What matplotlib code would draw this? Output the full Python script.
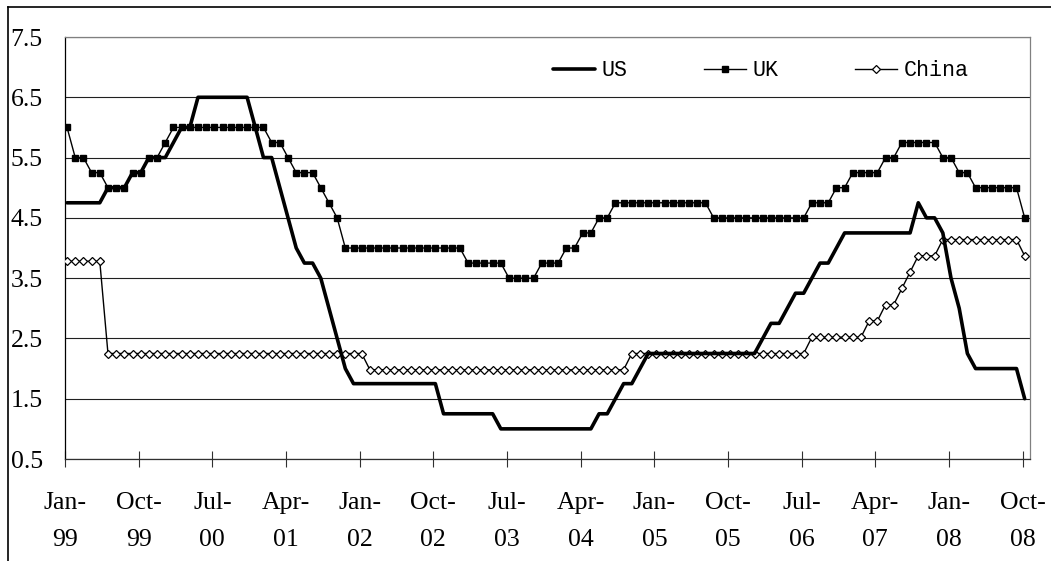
import matplotlib
matplotlib.use("Agg")
import matplotlib.pyplot as plt
from matplotlib.lines import Line2D
import numpy as np

# ---------------- data (monthly, Jan-1999 .. Oct-2008) ----------------
us = [
    4.75, 4.75, 4.75, 4.75, 4.75, 5.0, 5.0, 5.0, 5.25, 5.25, 5.5, 5.5,      # 1999
    5.5, 5.75, 6.0, 6.0, 6.5, 6.5, 6.5, 6.5, 6.5, 6.5, 6.5, 6.0,            # 2000
    5.5, 5.5, 5.0, 4.5, 4.0, 3.75, 3.75, 3.5, 3.0, 2.5, 2.0, 1.75,          # 2001
    1.75, 1.75, 1.75, 1.75, 1.75, 1.75, 1.75, 1.75, 1.75, 1.75, 1.25, 1.25, # 2002
    1.25, 1.25, 1.25, 1.25, 1.25, 1.0, 1.0, 1.0, 1.0, 1.0, 1.0, 1.0,        # 2003
    1.0, 1.0, 1.0, 1.0, 1.0, 1.25, 1.25, 1.5, 1.75, 1.75, 2.0, 2.25,        # 2004
    2.25, 2.25, 2.25, 2.25, 2.25, 2.25, 2.25, 2.25, 2.25, 2.25, 2.25, 2.25, # 2005
    2.25, 2.5, 2.75, 2.75, 3.0, 3.25, 3.25, 3.5, 3.75, 3.75, 4.0, 4.25,     # 2006
    4.25, 4.25, 4.25, 4.25, 4.25, 4.25, 4.25, 4.25, 4.75, 4.5, 4.5, 4.25,   # 2007
    3.5, 3.0, 2.25, 2.0, 2.0, 2.0, 2.0, 2.0, 2.0, 1.5,                      # 2008
]
uk = [
    6.0, 5.5, 5.5, 5.25, 5.25, 5.0, 5.0, 5.0, 5.25, 5.25, 5.5, 5.5,         # 1999
    5.75, 6.0, 6.0, 6.0, 6.0, 6.0, 6.0, 6.0, 6.0, 6.0, 6.0, 6.0,            # 2000
    6.0, 5.75, 5.75, 5.5, 5.25, 5.25, 5.25, 5.0, 4.75, 4.5, 4.0, 4.0,       # 2001
    4.0, 4.0, 4.0, 4.0, 4.0, 4.0, 4.0, 4.0, 4.0, 4.0, 4.0, 4.0,             # 2002
    4.0, 3.75, 3.75, 3.75, 3.75, 3.75, 3.5, 3.5, 3.5, 3.5, 3.75, 3.75,      # 2003
    3.75, 4.0, 4.0, 4.25, 4.25, 4.5, 4.5, 4.75, 4.75, 4.75, 4.75, 4.75,     # 2004
    4.75, 4.75, 4.75, 4.75, 4.75, 4.75, 4.75, 4.5, 4.5, 4.5, 4.5, 4.5,      # 2005
    4.5, 4.5, 4.5, 4.5, 4.5, 4.5, 4.5, 4.75, 4.75, 4.75, 5.0, 5.0,          # 2006
    5.25, 5.25, 5.25, 5.25, 5.5, 5.5, 5.75, 5.75, 5.75, 5.75, 5.75, 5.5,    # 2007
    5.5, 5.25, 5.25, 5.0, 5.0, 5.0, 5.0, 5.0, 5.0, 4.5,                     # 2008
]
china = [
    3.78, 3.78, 3.78, 3.78, 3.78, 2.25, 2.25, 2.25, 2.25, 2.25, 2.25, 2.25, # 1999
    2.25, 2.25, 2.25, 2.25, 2.25, 2.25, 2.25, 2.25, 2.25, 2.25, 2.25, 2.25, # 2000
    2.25, 2.25, 2.25, 2.25, 2.25, 2.25, 2.25, 2.25, 2.25, 2.25, 2.25, 2.25, # 2001
    2.25, 1.98, 1.98, 1.98, 1.98, 1.98, 1.98, 1.98, 1.98, 1.98, 1.98, 1.98, # 2002
    1.98, 1.98, 1.98, 1.98, 1.98, 1.98, 1.98, 1.98, 1.98, 1.98, 1.98, 1.98, # 2003
    1.98, 1.98, 1.98, 1.98, 1.98, 1.98, 1.98, 1.98, 1.98, 2.25, 2.25, 2.25, # 2004
    2.25, 2.25, 2.25, 2.25, 2.25, 2.25, 2.25, 2.25, 2.25, 2.25, 2.25, 2.25, # 2005
    2.25, 2.25, 2.25, 2.25, 2.25, 2.25, 2.25, 2.52, 2.52, 2.52, 2.52, 2.52, # 2006
    2.52, 2.52, 2.79, 2.79, 3.06, 3.06, 3.33, 3.60, 3.87, 3.87, 3.87, 4.14, # 2007
    4.14, 4.14, 4.14, 4.14, 4.14, 4.14, 4.14, 4.14, 4.14, 3.87,             # 2008
]
tick_labels = ["Jan-\n99", "Oct-\n99", "Jul-\n00", "Apr-\n01", "Jan-\n02",
               "Oct-\n02", "Jul-\n03", "Apr-\n04", "Jan-\n05", "Oct-\n05",
               "Jul-\n06", "Apr-\n07", "Jan-\n08", "Oct-\n08"]
y_ticks = [0.5, 1.5, 2.5, 3.5, 4.5, 5.5, 6.5, 7.5]
series_names = ["US", "UK", "China"]

# ---------------- figure ----------------
W, H = 1051, 561
fig = plt.figure(figsize=(W / 100, H / 100), dpi=100)
fig.patch.set_facecolor("white")
ax = fig.add_axes([65 / W, 1 - 459 / H, (1030 - 65) / W, (459 - 37) / H])

x = np.arange(len(us)) + 0.25

l_china, = ax.plot(x, china, color="black", lw=1.0, marker="D", ms=3.8,
                   mfc="white", mec="black", mew=0.9, zorder=3)
l_us, = ax.plot(x, us, color="black", lw=2.6, zorder=4,
                solid_joinstyle="round", solid_capstyle="round")
l_uk, = ax.plot(x, uk, color="black", lw=1.0, marker="s", ms=4.3,
                mfc="black", mec="black", zorder=5)

ax.set_xlim(0, 117.9)
ax.set_ylim(0.5, 7.5)

ax.set_yticks(y_ticks)
ax.set_yticklabels([f"{v:.1f}" for v in y_ticks])
ax.grid(axis="y", color="#202020", lw=0.8)
ax.set_axisbelow(True)

tick_idx = [9 * k for k in range(len(tick_labels))]
ax.set_xticks(tick_idx)
ax.set_xticklabels(tick_labels)

ax.tick_params(axis="x", direction="inout", length=12, width=0.8,
               color="#303030", pad=17.5, labelsize=18.5)
ax.tick_params(axis="y", length=0, pad=16, labelsize=18.5)
for lbl in ax.get_xticklabels():
    lbl.set_fontfamily("Liberation Serif")
    lbl.set_linespacing(1.9)
    lbl.set_multialignment("center")
for lbl in ax.get_yticklabels():
    lbl.set_fontfamily("Liberation Serif")

ax.spines["left"].set_color("black")
ax.spines["left"].set_linewidth(0.9)
ax.spines["bottom"].set_color("#303030")
ax.spines["bottom"].set_linewidth(0.9)
for s in ("top", "right"):
    ax.spines[s].set_color("#808080")
    ax.spines[s].set_linewidth(0.9)

ax.legend([l_us, l_uk, l_china], series_names, loc="center left",
          bbox_to_anchor=(553 / W, 1 - 71 / H), bbox_transform=fig.transFigure,
          ncol=3, frameon=False, borderpad=0, borderaxespad=0,
          handlelength=1.94, handletextpad=0.32, columnspacing=3.5,
          prop={"family": "Liberation Mono", "size": 15.6})

# outer chart border (left & top visible)
fig.add_artist(Line2D([8 / W, 8 / W], [0, 1 - 7 / H], transform=fig.transFigure,
                      color="black", lw=1.2))
fig.add_artist(Line2D([8 / W, 1], [1 - 7 / H, 1 - 7 / H], transform=fig.transFigure,
                      color="black", lw=1.2))

fig.savefig("out.png", dpi=100)
